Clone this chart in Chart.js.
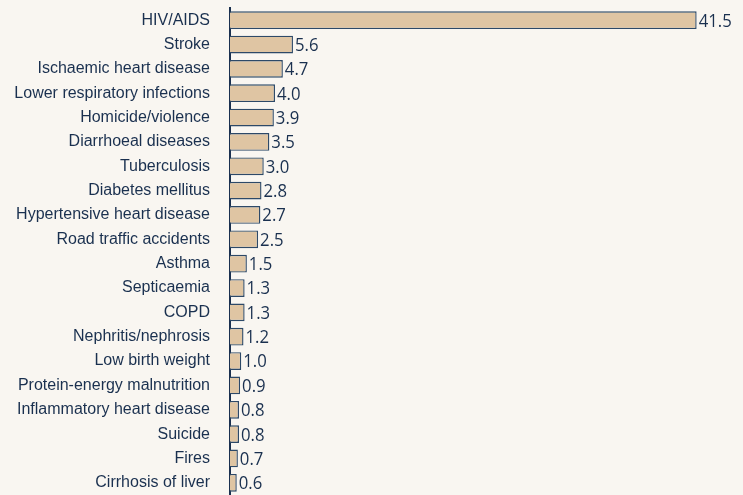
<!DOCTYPE html>
<html>
<head>
<meta charset="utf-8">
<script src="https://cdn.jsdelivr.net/npm/chart.js@4"></script>
<style>
  html, body { margin: 0; padding: 0; background: #f9f6f1; }
  #wrap { width: 743px; height: 495px; }
</style>
</head>
<body>
<div id="wrap"><canvas id="barChart"></canvas></div>
<script>
const causes = ["HIV/AIDS", "Stroke", "Ischaemic heart disease", "Lower respiratory infections",
  "Homicide/violence", "Diarrhoeal diseases", "Tuberculosis", "Diabetes mellitus",
  "Hypertensive heart disease", "Road traffic accidents", "Asthma", "Septicaemia", "COPD",
  "Nephritis/nephrosis", "Low birth weight", "Protein-energy malnutrition",
  "Inflammatory heart disease", "Suicide", "Fires", "Cirrhosis of liver"];
const percents = [41.5, 5.6, 4.7, 4.0, 3.9, 3.5, 3.0, 2.8, 2.7, 2.5, 1.5, 1.3, 1.3, 1.2, 1.0, 0.9, 0.8, 0.8, 0.7, 0.6];

const navy = '#1a304f';

// value labels at the end of each bar (slightly narrowed like the original)
const valueLabels = {
  id: 'valueLabels',
  afterDatasetsDraw(chart) {
    const ctx = chart.ctx;
    const meta = chart.getDatasetMeta(0);
    ctx.save();
    ctx.fillStyle = navy;
    ctx.font = '19px "Open Sans"';
    ctx.textBaseline = 'middle';
    meta.data.forEach(function(bar, i) {
      ctx.save();
      ctx.translate(bar.x + 2, bar.y + 1);
      ctx.scale(0.88, 1);
      ctx.fillText(percents[i].toFixed(1), 0, 0);
      ctx.restore();
    });
    ctx.restore();
  }
};

new Chart("barChart", {
  type: "bar",
  data: {
    labels: causes,
    datasets: [{
      data: percents,
      backgroundColor: '#dfc5a3',
      borderColor: '#2d4968',
      borderWidth: 1.4,
      barPercentage: 0.73,
      categoryPercentage: 1
    }]
  },
  options: {
    indexAxis: 'y',
    responsive: true,
    maintainAspectRatio: false,
    animation: false,
    layout: { padding: { top: 8, right: 7, bottom: 0, left: 0 } },
    plugins: { legend: { display: false }, tooltip: { enabled: false } },
    scales: {
      x: {
        display: false,
        min: 0,
        max: 45
      },
      y: {
        afterFit(scale) {
          scale.width = 230;
          scale.paddingTop = 0;
          scale.paddingBottom = 0;
        },
        grid: { display: false, drawTicks: false },
        border: { display: true, color: navy, width: 2 },
        ticks: {
          color: navy,
          padding: 20,
          font: { family: '"Liberation Sans", Arial, sans-serif', size: 16 }
        }
      }
    }
  },
  plugins: [valueLabels]
});
</script>
</body>
</html>
